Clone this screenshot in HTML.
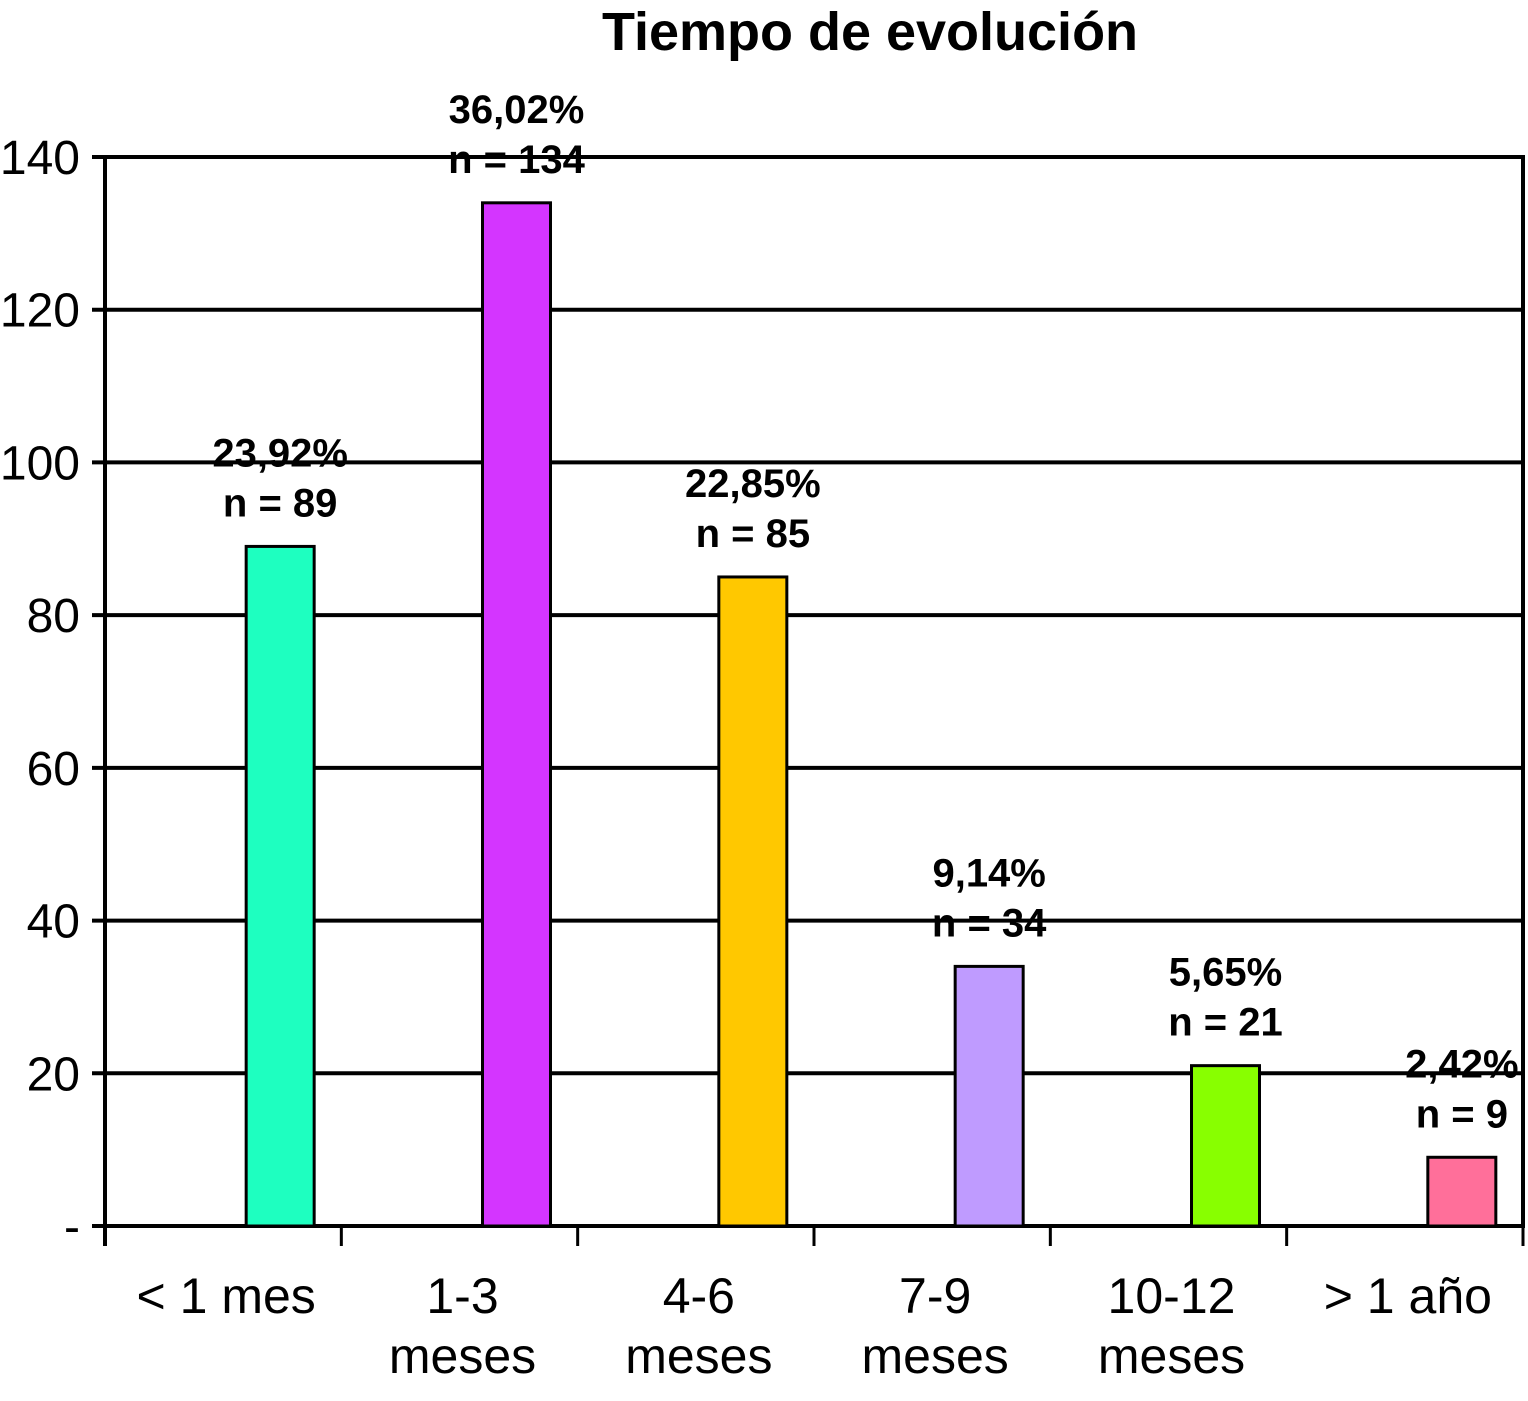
<!DOCTYPE html>
<html><head><meta charset="utf-8"><style>
body{margin:0;background:#fff}
svg text{font-family:"Liberation Sans",Arial,sans-serif}
</style></head><body>
<svg width="1528" height="1396" viewBox="0 0 1528 1396">
<text x="870" y="50" text-anchor="middle" font-size="54" font-weight="bold">Tiempo de evolución</text>
<g id="grid"></g><g id="bars"></g><g id="labels"></g>
</svg>
<script>
const categories=[["< 1 mes"],["1-3","meses"],["4-6","meses"],["7-9","meses"],["10-12","meses"],["> 1 año"]];
const values=[89,134,85,34,21,9];
const percents=["23,92%","36,02%","22,85%","9,14%","5,65%","2,42%"];
const colors=["#1effc0","#d435ff","#ffc800","#bf9bff","#88ff00","#ff6f9a"];
const yTicks=[0,20,40,60,80,100,120,140];
const yTickLabels=["-","20","40","60","80","100","120","140"];
const L=105,R=1523,T=157,B=1226,yMax=140;
const ns="http://www.w3.org/2000/svg";
function y(v){return B-v*(B-T)/yMax;}
const slot=(R-L)/categories.length;
function xc(i){return L+slot*(i+0.5);}
function mk(tag,attrs,parent,text){const e=document.createElementNS(ns,tag);for(const k in attrs)e.setAttribute(k,attrs[k]);if(text!==undefined)e.textContent=text;document.getElementById(parent).appendChild(e);return e;}
yTicks.forEach((t,i)=>{
 const g=mk('line',{x1:L-13,x2:R,y1:y(t),y2:y(t),stroke:'#000','stroke-width':4},'grid');
 
 
 const tx=mk('text',{x:80,y:y(t)+17,'text-anchor':'end','font-size':48},'labels',yTickLabels[i]);
 
 
});
const ax=mk('line',{x1:L,x2:L,y1:T-2,y2:B+20,stroke:'#000','stroke-width':4},'grid');


const rb=mk('line',{x1:R,x2:R,y1:T-2,y2:B+2,stroke:'#000','stroke-width':4},'grid');


for(let i=1;i<=categories.length;i++){
 const tk=mk('line',{x1:L+slot*i,x2:L+slot*i,y1:B,y2:B+20,stroke:'#000','stroke-width':3},'grid');
 
 
}
values.forEach((v,i)=>{
 const cx=xc(i)+57,w=68;
 const r=mk('rect',{x:cx-w/2,y:y(v),width:w,height:B-y(v),fill:colors[i],stroke:'#000','stroke-width':3},'bars');
 
 
 const p=mk('text',{x:cx,y:y(v)-80,'text-anchor':'middle','font-size':40,'font-weight':'bold'},'labels',percents[i]);
 
 
 const n=mk('text',{x:cx,y:y(v)-30,'text-anchor':'middle','font-size':40,'font-weight':'bold'},'labels','n = '+v);
 
 
 categories[i].forEach((line,j)=>{
  const c=mk('text',{x:xc(i)+3,y:1313+j*60,'text-anchor':'middle','font-size':50},'labels',line);
  
  
 });
});
</script>
</body></html>
